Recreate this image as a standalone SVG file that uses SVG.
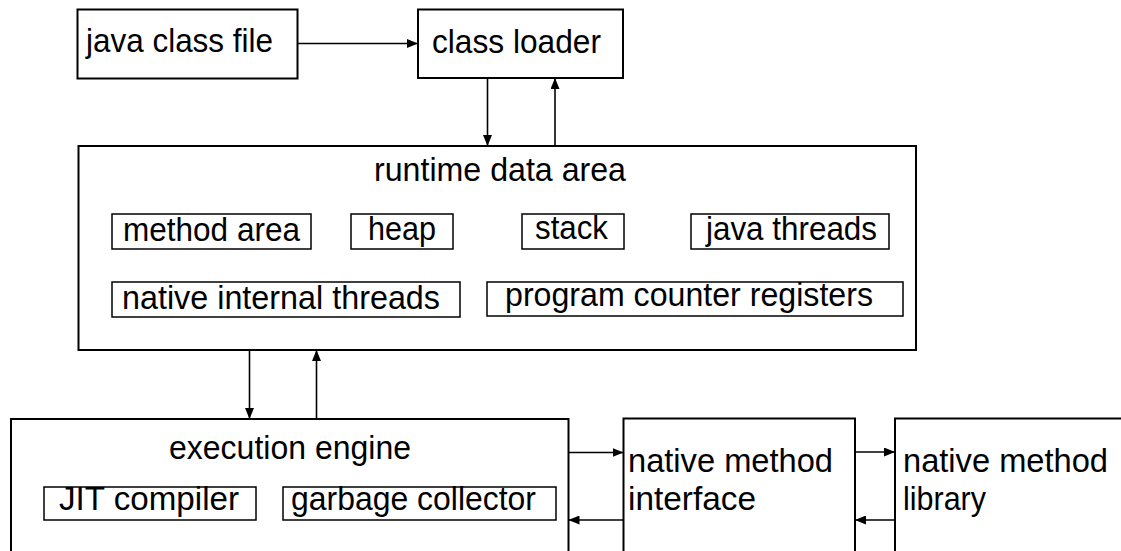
<svg xmlns="http://www.w3.org/2000/svg" width="1121" height="551" viewBox="0 0 1121 551">
<style>
.box{fill:#fff;stroke:#000;stroke-width:2}
.inner{fill:#fff;stroke:#000;stroke-width:1.5}
.lbl{font-family:"Liberation Sans",Arial,sans-serif;font-size:33px;fill:#000}
.conn line{stroke:#000;stroke-width:1.6;marker-end:url(#ah)}
</style>
<defs>
<marker id="ah" markerWidth="11" markerHeight="9" refX="11" refY="4.5" orient="auto" markerUnits="userSpaceOnUse"><path d="M0,0 L11,4.5 L0,9 Z" fill="#000"/></marker>
</defs>
<rect width="1121" height="551" fill="#fff"/>
<g id="java-class-file"><rect class="box" x="77.5" y="9.5" width="220" height="69"/><text class="lbl" x="86" y="52" textLength="187" lengthAdjust="spacingAndGlyphs">java class file</text></g>
<g id="class-loader"><rect class="box" x="418" y="9.5" width="205" height="68.5"/><text class="lbl" x="432" y="53" textLength="169" lengthAdjust="spacingAndGlyphs">class loader</text></g>
<g id="runtime-data-area"><rect class="box" x="78.5" y="146" width="837.5" height="204"/><text class="lbl" x="374" y="181" textLength="252" lengthAdjust="spacingAndGlyphs">runtime data area</text></g>
<g id="method-area"><rect class="inner" x="112" y="214" width="199" height="35"/><text class="lbl" x="123" y="241" textLength="177" lengthAdjust="spacingAndGlyphs">method area</text></g>
<g id="heap"><rect class="inner" x="351" y="214" width="102" height="35"/><text class="lbl" x="368" y="240" textLength="68" lengthAdjust="spacingAndGlyphs">heap</text></g>
<g id="stack"><rect class="inner" x="522" y="214" width="102" height="35"/><text class="lbl" x="535" y="239" textLength="73" lengthAdjust="spacingAndGlyphs">stack</text></g>
<g id="java-threads"><rect class="inner" x="691" y="214" width="198" height="35"/><text class="lbl" x="706" y="240" textLength="171" lengthAdjust="spacingAndGlyphs">java threads</text></g>
<g id="native-internal-threads"><rect class="inner" x="112" y="282" width="348" height="35"/><text class="lbl" x="122" y="309" textLength="318" lengthAdjust="spacingAndGlyphs">native internal threads</text></g>
<g id="program-counter-registers"><rect class="inner" x="487" y="282" width="416" height="34"/><text class="lbl" x="505" y="306" textLength="368" lengthAdjust="spacingAndGlyphs">program counter registers</text></g>
<g id="execution-engine"><rect class="box" x="11" y="419" width="557.5" height="150"/><text class="lbl" x="169" y="459" textLength="242" lengthAdjust="spacingAndGlyphs">execution engine</text></g>
<g id="jit-compiler"><rect class="inner" x="44" y="487" width="212" height="33"/><text class="lbl" x="59" y="510" textLength="180" lengthAdjust="spacingAndGlyphs">JIT compiler</text></g>
<g id="garbage-collector"><rect class="inner" x="283" y="487" width="273" height="33"/><text class="lbl" x="291" y="510" textLength="245" lengthAdjust="spacingAndGlyphs">garbage collector</text></g>
<g id="native-method-interface"><rect class="box" x="623.5" y="418.5" width="231.5" height="150"/><text class="lbl" x="628" y="472" textLength="205" lengthAdjust="spacingAndGlyphs">native method</text><text class="lbl" x="628" y="510" textLength="128" lengthAdjust="spacingAndGlyphs">interface</text></g>
<g id="native-method-library"><rect class="box" x="895" y="418.5" width="260" height="150"/><text class="lbl" x="903" y="472" textLength="205" lengthAdjust="spacingAndGlyphs">native method</text><text class="lbl" x="903" y="510" textLength="83" lengthAdjust="spacingAndGlyphs">library</text></g>
<g id="connectors" class="conn">
<line x1="297.5" y1="43.5" x2="418" y2="43.5"/>
<line x1="487.5" y1="78" x2="487.5" y2="146"/>
<line x1="555" y1="146" x2="555" y2="78"/>
<line x1="249.5" y1="350" x2="249.5" y2="419"/>
<line x1="316.5" y1="419" x2="316.5" y2="350"/>
<line x1="568.5" y1="452.5" x2="623.5" y2="452.5"/>
<line x1="623.5" y1="520" x2="568.5" y2="520"/>
<line x1="855" y1="452" x2="895" y2="452"/>
<line x1="895" y1="520" x2="855" y2="520"/>
</g>
</svg>
